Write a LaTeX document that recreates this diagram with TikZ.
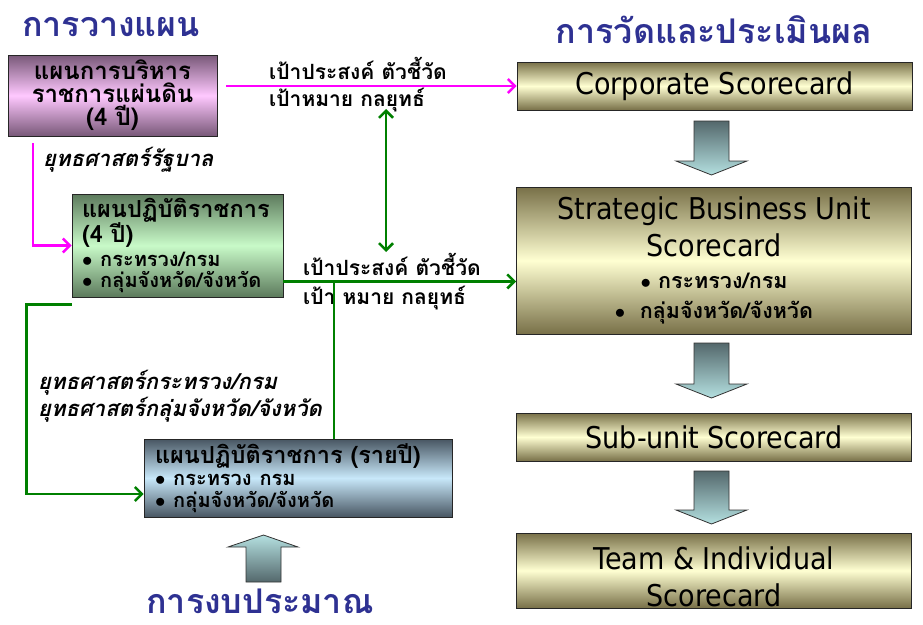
\documentclass[tikz,border=0pt]{standalone}
\usepackage{fontspec}
\setmainfont{DejaVu Sans Condensed}
\newfontfamily\thai[Script=Thai]{Loma}
\usetikzlibrary{arrows.meta}

\definecolor{headblue}{RGB}{46,49,146}
\definecolor{pinkline}{RGB}{255,0,255}
\definecolor{greenline}{RGB}{0,128,0}
\definecolor{olivedark}{RGB}{120,112,72}
\definecolor{olivelight}{RGB}{255,255,210}
\definecolor{mauvedark}{RGB}{120,88,120}
\definecolor{mauvelight}{RGB}{255,200,255}
\definecolor{mintdark}{RGB}{92,122,92}
\definecolor{mintlight}{RGB}{200,250,200}
\definecolor{skydark}{RGB}{72,86,98}
\definecolor{skylight}{RGB}{200,232,250}
\definecolor{tealdark}{RGB}{84,104,108}
\definecolor{teallight}{RGB}{180,224,224}

\newcommand{\bul}{$\bullet$\ }

\tikzset{
  heading/.style={font=\thai\bfseries\fontsize{34}{40}\selectfont, text=headblue, inner sep=0pt},
  box/.style={draw=black!85, line width=0.8pt, inner sep=0pt, text=black},
  olivebox/.style={box, top color=olivedark, bottom color=olivedark, middle color=olivelight,
    minimum width=395pt, align=center, font=\fontsize{30}{37}\selectfont},
  goal/.style={font=\thai\bfseries\fontsize{21}{24}\selectfont, anchor=west, inner sep=0pt},
  strat/.style={font=\thai\bfseries\itshape\fontsize{22}{27}\selectfont, anchor=west,
    inner sep=0pt, align=left},
  pinkl/.style={draw=pinkline, line width=2.5pt},
  greenl/.style={draw=greenline, line width=2.5pt},
  blockarrow/.style={draw=black!80, line width=0.8pt},
}

\begin{document}
\begin{tikzpicture}[x=1pt,y=-1pt,>={Straight Barb[length=7pt,width=14pt]}]
  \useasboundingbox (0,0) rectangle (923,624);

  \node[heading] (planT) at (111,27) {การวางแผน};
  \node[heading] (evalT) at (714,30) {การวัดและประเมินผล};
  \node[heading] (budgetT) at (260,601) {การงบประมาณ};

  \node[box, top color=mauvedark, bottom color=mauvedark, middle color=mauvelight,
    minimum width=209pt, minimum height=81pt, align=center,
    font=\thai\bfseries\fontsize{24}{23}\selectfont] (plan) at (112.5,95.5)
    {แผนการบริหาร\\ราชการแผ่นดิน\\(4 ปี)};
  \node[box, top color=mintdark, bottom color=mintdark, middle color=mintlight,
    minimum width=211pt, minimum height=103pt, text width=191pt, align=left,
    font=\thai\bfseries\fontsize{23.5}{24}\selectfont] (plan4) at (177.5,245.5)
    {แผนปฏิบัติราชการ\\(4 ปี)\\{\fontsize{20}{20}\selectfont\bul กระทรวง/กรม}\\[-3pt]
     {\fontsize{20}{20}\selectfont\bul กลุ่มจังหวัด/จังหวัด}};
  \node[box, top color=skydark, bottom color=skydark, middle color=skylight,
    minimum width=308pt, minimum height=78pt, text width=286pt, align=left,
    font=\thai\bfseries\fontsize{23.5}{22}\selectfont] (planyear) at (298,478)
    {แผนปฏิบัติราชการ (รายปี)\\{\fontsize{20}{20}\selectfont\bul กระทรวง กรม}\\
     {\fontsize{20}{20}\selectfont\bul กลุ่มจังหวัด/จังหวัด}};

  \node[olivebox, minimum height=48pt] (corp) at (714.5,86) {Corporate Scorecard};
  \node[olivebox, minimum height=147pt] (sbu) at (714,260.5)
    {Strategic Business Unit\\Scorecard\\[-5pt]
     {\thai\bfseries\fontsize{21.5}{20}\selectfont\bul กระทรวง/กรม}\\[-7pt]
     {\thai\bfseries\fontsize{21.5}{20}\selectfont\bul\ กลุ่มจังหวัด/จังหวัด}};
  \node[olivebox, minimum height=48pt] (sub) at (714,437) {Sub-unit Scorecard};
  \node[olivebox, minimum height=75pt] (team) at (714,570.5)
    {\rule{0pt}{36pt}Team \& Individual\\Scorecard};

  \foreach \t/\b in {121/175, 343/398, 471/524}
    \draw[blockarrow, top color=tealdark, bottom color=teallight]
      (694,\t) -- (729,\t) -- (729,\b-14) -- (747,\b-14) -- (711.5,\b)
      -- (676,\b-14) -- (694,\b-14) -- cycle;
  \draw[blockarrow, top color=teallight, bottom color=tealdark]
    (246,582) -- (281,582) -- (281,547) -- (298,547) -- (263.5,535)
    -- (228,547) -- (246,547) -- cycle;

  \node[goal] (goal1) at (269,68) {เป้าประสงค์ ตัวชี้วัด};
  \node[goal] (target1) at (269,100) {เป้าหมาย กลยุทธ์};
  \node[goal] (goal2) at (303,264) {เป้าประสงค์ ตัวชี้วัด};
  \node[goal] (target2) at (303,298) {เป้า หมาย กลยุทธ์};
  \node[strat] (govt) at (43,160) {ยุทธศาสตร์รัฐบาล};
  \node[strat] (ministry) at (38,396) {ยุทธศาสตร์กระทรวง/กรม\\ยุทธศาสตร์กลุ่มจังหวัด/จังหวัด};

  \coordinate (gov) at (33,143);
  \coordinate (vtop) at (386,109);
  \coordinate (vbot) at (386,252);

  \draw[pinkl,->] ([xshift=9pt]plan.east |- corp.west) -- (corp.west);
  \draw[pinkl,->] (gov) |- (plan4.west);
  \draw[greenl,<->] (vtop) -- (vbot);
  \draw[greenl,->] ([yshift=16pt]plan4.south east) -- ([yshift=16pt]plan4.south east -| sbu.west);
  \draw[greenl] (planyear.north -| 334,0) -- (334,281);
  \draw[greenl,->] ([yshift=-7pt]plan4.south west) -- ++(-45,0)
    |- ([yshift=-16pt]planyear.west);
\end{tikzpicture}
\end{document}
